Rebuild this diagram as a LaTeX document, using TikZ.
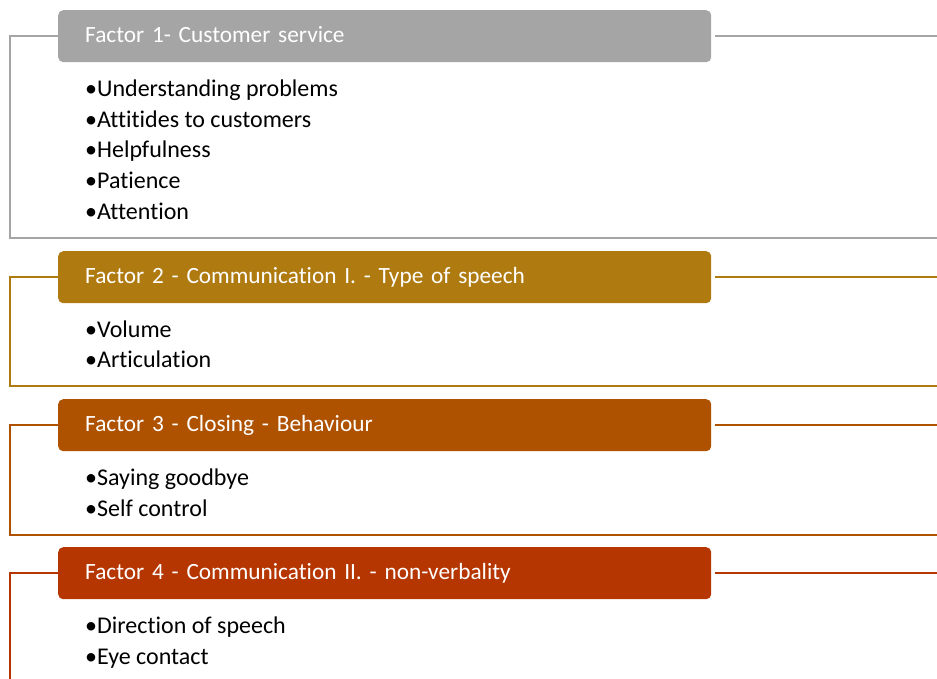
\documentclass[tikz,border=0pt]{standalone}
\usepackage{fontspec}
\setmainfont{Carlito}[Ligatures=NoCommon]
\usepackage{tikz}
\usetikzlibrary{calc}

\definecolor{cinza}{RGB}{165,165,165}
\definecolor{ouro}{RGB}{175,122,15}
\definecolor{laranja}{RGB}{174,82,0}
\definecolor{telha}{RGB}{181,54,0}

\begin{document}
\begin{tikzpicture}[x=1pt,y=-1pt,
    cabeca/.style={fill=#1, rounded corners=5pt, anchor=north west,
        minimum width=653pt, minimum height=52pt, inner xsep=27pt, inner ysep=0pt,
        text width=599pt, align=left, text height=13.4pt, text depth=0pt,
        text=white, font=\fontsize{23.3}{27}\selectfont},
    item/.style={anchor=base west, inner sep=0pt, font=\fontsize{24}{28}\selectfont},
    moldura/.style={draw=#1, line width=2pt}]
    \useasboundingbox (0,0) rectangle (937,678);
    \clip (0,0) rectangle (937,678);

    % fator 1
    \node[cabeca=cinza] (h1) at (58,10) {Factor 1- Customer service};
    \coordinate (c1) at (10,238);
    \coordinate (d1) at (945,238);
    \draw[moldura=cinza] (h1.west) -| (c1) -- (d1);
    \draw[moldura=cinza] ([xshift=4pt]h1.east) -- ++(240,0);
    \node[item] (i11) at (85,96.5) {•Understanding problems};
    \node[item] (i12) at (85,127.5) {•Attitides to customers};
    \node[item] (i13) at (85,157.5) {•Helpfulness};
    \node[item] (i14) at (85,188.5) {•Patience};
    \node[item] (i15) at (85,219.5) {•Attention};

    % fator 2
    \node[cabeca=ouro] (h2) at (58,251) {Factor 2 - Communication I. - Type of speech};
    \coordinate (c2) at (10,386);
    \coordinate (d2) at (945,386);
    \draw[moldura=ouro] (h2.west) -| (c2) -- (d2);
    \draw[moldura=ouro] ([xshift=4pt]h2.east) -- ++(240,0);
    \node[item] (i21) at (85,337.5) {•Volume};
    \node[item] (i22) at (85,367.5) {•Articulation};

    % fator 3
    \node[cabeca=laranja] (h3) at (58,399) {Factor 3 - Closing - Behaviour};
    \coordinate (c3) at (10,535);
    \coordinate (d3) at (945,535);
    \draw[moldura=laranja] (h3.west) -| (c3) -- (d3);
    \draw[moldura=laranja] ([xshift=4pt]h3.east) -- ++(240,0);
    \node[item] (i31) at (85,485.5) {•Saying goodbye};
    \node[item] (i32) at (85,516.5) {•Self control};

    % fator 4
    \node[cabeca=telha] (h4) at (58,547) {Factor 4 - Communication II. - non-verbality};
    \coordinate (c4) at (10,690);
    \draw[moldura=telha] (h4.west) -| (c4);
    \draw[moldura=telha] ([xshift=4pt]h4.east) -- ++(240,0);
    \node[item] (i41) at (85,633.5) {•Direction of speech};
    \node[item] (i42) at (85,664.5) {•Eye contact};

\end{tikzpicture}
\end{document}
